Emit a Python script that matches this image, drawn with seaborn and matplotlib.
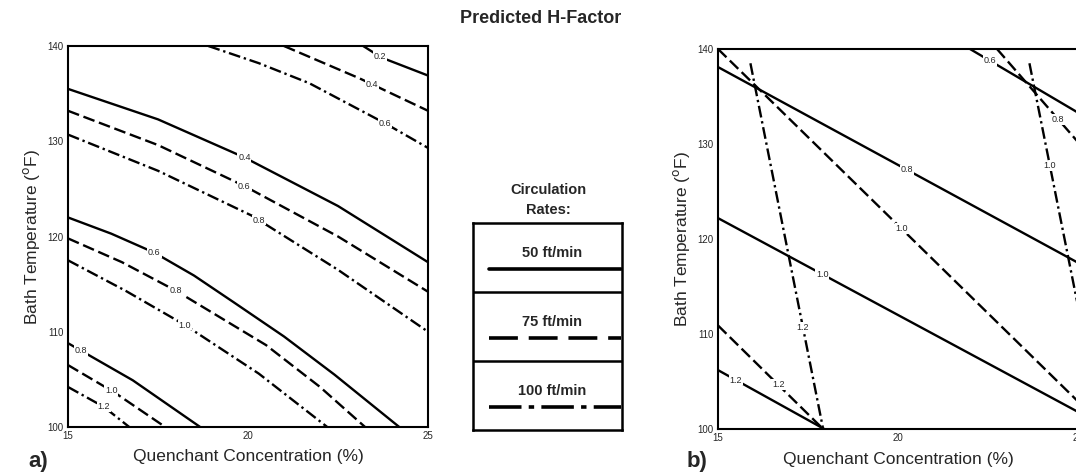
import numpy as np
import pandas as pd
import matplotlib
matplotlib.use("Agg")
import matplotlib.pyplot as plt
import seaborn as sns

# --- data ----------------------------------------------------------------
rates = ["50 ft/min", "75 ft/min", "100 ft/min"]
x_ticks = [15, 20, 25]
y_ticks = [100, 110, 120, 130, 140]

# panel a) : (x, y) per contour, name = rate_H
a_50_02 = ([23.2, 23.7, 25.0], [140, 138.8, 136.9])
a_50_04 = ([15, 17.5, 19.9, 22.5, 25], [135.5, 132.3, 128.3, 123.2, 117.3])
a_50_06 = ([15, 16.2, 17.4, 18.5, 19.6, 21, 22.4, 24.2],
           [122.0, 120.3, 118.3, 115.9, 113.1, 109.5, 105.5, 100])
a_50_08 = ([15, 16.8, 18.67], [108.8, 104.9, 100])
a_75_04 = ([21.0, 23.1, 25], [140, 136.6, 133.2])
a_75_06 = ([15, 17.5, 19.9, 22.5, 25], [133.2, 129.6, 125.3, 120.0, 114.2])
a_75_08 = ([15, 16.5, 18.0, 20.5, 22, 23.25], [119.8, 117.3, 114.3, 108.6, 104.2, 100])
a_75_10 = ([15, 16.3, 17.7], [106.5, 103.6, 100])
a_100_06 = ([18.9, 20.3, 21.7, 23.8, 25], [140, 138.2, 136.1, 131.9, 129.3])
a_100_08 = ([15, 17.5, 20.1, 22.5, 25], [130.7, 126.9, 122.2, 116.5, 110.0])
a_100_10 = ([15, 16.6, 18.25, 20.3, 22.2], [117.5, 114.3, 110.7, 105.6, 100])
a_100_12 = ([15, 16.0, 16.7], [104.2, 102.1, 100])

# panel b)
b_50_06 = ([22.0, 25], [140, 133.3])
b_50_08 = ([15, 25], [138.1, 117.5])
b_50_10 = ([15, 25], [122.2, 101.8])
b_50_12 = ([15, 17.95], [106.2, 100])
b_75_08 = ([22.75, 25], [140, 130.2])
b_75_10 = ([15, 25], [140, 102.9])
b_75_12 = ([15, 17.92], [110.9, 100])
b_100_10 = ([23.65, 25], [138.5, 112.9])
b_100_12 = ([15.9, 17.92], [138.5, 100])

# (curve, rate, H label, x where label sits)
panel_a = [
    (a_50_02, "50 ft/min", "0.2", 23.67), (a_50_04, "50 ft/min", "0.4", 19.9),
    (a_50_06, "50 ft/min", "0.6", 17.4), (a_50_08, "50 ft/min", "0.8", 15.35),
    (a_75_04, "75 ft/min", "0.4", 23.45), (a_75_06, "75 ft/min", "0.6", 19.9),
    (a_75_08, "75 ft/min", "0.8", 18.0), (a_75_10, "75 ft/min", "1.0", 16.2),
    (a_100_06, "100 ft/min", "0.6", 23.8), (a_100_08, "100 ft/min", "0.8", 20.3),
    (a_100_10, "100 ft/min", "1.0", 18.25), (a_100_12, "100 ft/min", "1.2", 16.0),
]
panel_b = [
    (b_50_06, "50 ft/min", "0.6", 22.55), (b_50_08, "50 ft/min", "0.8", 20.25),
    (b_50_10, "50 ft/min", "1.0", 17.9), (b_50_12, "50 ft/min", "1.2", 15.5),
    (b_75_08, "75 ft/min", "0.8", 24.45), (b_75_10, "75 ft/min", "1.0", 20.1),
    (b_75_12, "75 ft/min", "1.2", 16.67),
    (b_100_10, "100 ft/min", "1.0", 24.22), (b_100_12, "100 ft/min", "1.2", 17.36),
]

dash_map = {"50 ft/min": "", "75 ft/min": (5, 2), "100 ft/min": (5, 1.6, 1, 1.6)}

sns.set_style("white")
plt.rcParams["font.family"] = ["Liberation Sans", "DejaVu Sans"]

fig = plt.figure(figsize=(10.76, 4.75), dpi=100)
ax_a = fig.add_axes([0.0632, 0.1011, 0.3346, 0.802])
ax_b = fig.add_axes([0.6673, 0.0968, 0.3346, 0.800])


def draw_panel(ax, curves):
    rows = []
    for i, (c, rate, h, lx) in enumerate(curves):
        for x, y in zip(c[0], c[1]):
            rows.append({"x": x, "y": y, "rate": rate, "id": i})
    df = pd.DataFrame(rows)
    sns.lineplot(data=df, x="x", y="y", units="id", style="rate", dashes=dash_map,
                 estimator=None, sort=False, color="black", lw=1.7, legend=False, ax=ax)
    for c, rate, h, lx in curves:
        ly = np.interp(lx, c[0], c[1])
        ax.text(lx, ly, h, fontsize=6.5, ha="center", va="center",
                bbox=dict(facecolor="white", edgecolor="none", pad=0.6), zorder=5)
    ax.set_xlim(15, 25)
    ax.set_ylim(100, 140)
    ax.set_xticks(x_ticks)
    ax.set_yticks(y_ticks)
    ax.tick_params(direction="in", length=3, width=1, labelsize=7, pad=3)
    for s in ax.spines.values():
        s.set_linewidth(1.5)
        s.set_color("black")
    ax.set_xlabel("Quenchant Concentration (%)", fontsize=12.5, labelpad=6)
    ax.set_ylabel("Bath Temperature ($^{\\mathrm{o}}$F)", fontsize=12.5, labelpad=4)


draw_panel(ax_a, panel_a)
draw_panel(ax_b, panel_b)

fig.text(0.502, 0.962, "Predicted H-Factor", ha="center", va="center",
         fontsize=13, fontweight="bold")
fig.text(0.026, 0.028, "a)", fontsize=16, fontweight="bold", va="center")
fig.text(0.638, 0.028, "b)", fontsize=16, fontweight="bold", va="center")

# legend box
ax_l = fig.add_axes([473 / 1076, 1 - 430 / 475, 149 / 1076, 207 / 475])
ax_l.set_xlim(0, 1)
ax_l.set_ylim(0, 3)
ax_l.set_xticks([])
ax_l.set_yticks([])
for s in ax_l.spines.values():
    s.set_linewidth(1.8)
    s.set_color("black")
ax_l.axhline(1, color="black", lw=1.8)
ax_l.axhline(2, color="black", lw=1.8)
leg_dash = {"50 ft/min": "", "75 ft/min": (8, 3), "100 ft/min": (9, 2, 1.5, 2)}
for k, rate in enumerate(rates):
    yb = 2 - k
    ax_l.text(0.53, yb + 0.56, rate, ha="center", va="center", fontsize=10.5,
              fontweight="bold")
    ln, = ax_l.plot([0.11, 0.99], [yb + 0.33, yb + 0.33], color="black", lw=2.6)
    if leg_dash[rate]:
        ln.set_dashes(leg_dash[rate])
fig.text(548 / 1076, 1 - 190 / 475, "Circulation", ha="center", va="center",
         fontsize=10.5, fontweight="bold")
fig.text(548 / 1076, 1 - 210 / 475, "Rates:", ha="center", va="center",
         fontsize=10.5, fontweight="bold")

fig.savefig("out.png", dpi=100)
